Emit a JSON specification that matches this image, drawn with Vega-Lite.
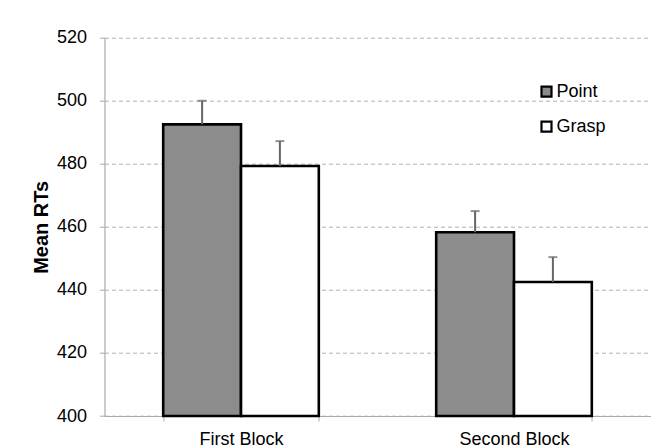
{
  "$schema": "https://vega.github.io/schema/vega-lite/v6.json",
  "width": 546,
  "height": 378.3,
  "autosize": {"type": "none"},
  "padding": {"left": 104.5, "top": 37.7, "right": 20.5, "bottom": 29},
  "background": "white",
  "config": {
    "font": "Liberation Sans",
    "view": {"stroke": null},
    "axis": {"labelFont": "Liberation Sans", "titleFont": "Liberation Sans", "labelColor": "#000", "titleColor": "#000"}
  },
  "data": {
    "values": [
      {"block": "First Block", "grip": "Point", "rt": 492.5, "upper": 500},
      {"block": "First Block", "grip": "Grasp", "rt": 479.3, "upper": 487.2},
      {"block": "Second Block", "grip": "Point", "rt": 458.3, "upper": 465},
      {"block": "Second Block", "grip": "Grasp", "rt": 442.5, "upper": 450.4}
    ]
  },
  "encoding": {
    "x": {
      "field": "block", "type": "nominal", "sort": ["First Block", "Second Block"],
      "scale": {"paddingInner": 0.43, "paddingOuter": 0.215},
      "axis": {"title": null, "labelAngle": 0, "labelFontSize": 18, "labelPadding": 9, "tickBand": "extent", "tickSize": 5, "tickColor": "#aaa", "domainColor": "#aaa", "domainWidth": 1.2, "grid": false}
    },
    "xOffset": {"field": "grip", "type": "nominal", "sort": ["Point", "Grasp"], "scale": {"paddingInner": 0, "paddingOuter": 0}}
  },
  "layer": [
    {
      "mark": {"type": "bar", "stroke": "black", "strokeWidth": 2.6},
      "encoding": {
        "y": {
          "field": "rt", "type": "quantitative",
          "scale": {"domain": [400, 520], "zero": false, "nice": false},
          "axis": {"title": "Mean RTs", "titleFontSize": 20, "titleFontWeight": "bold", "titlePadding": 5, "labelFontSize": 18, "labelPadding": 13, "tickSize": 5, "tickColor": "#aaa", "domainColor": "#aaa", "domainWidth": 1.2, "values": [400, 420, 440, 460, 480, 500, 520], "gridColor": "#b0b0b0", "gridDash": [4, 3], "gridWidth": 1}
        },
        "y2": {"datum": 400},
        "fill": {
          "field": "grip", "type": "nominal", "sort": ["Point", "Grasp"],
          "scale": {"domain": ["Point", "Grasp"], "range": ["#8c8c8c", "#ffffff"]},
          "legend": {
            "title": null, "orient": "none", "legendX": 433, "legendY": 45, "padding": 0,
            "symbolType": "square", "symbolSize": 100, "symbolStrokeColor": "black", "symbolStrokeWidth": 2.2,
            "labelFontSize": 18, "labelFont": "Liberation Sans", "labelColor": "#000", "labelOffset": 1, "rowPadding": 15
          }
        }
      }
    },
    {
      "mark": {"type": "rule", "color": "#666", "strokeWidth": 2},
      "encoding": {
        "y": {"field": "rt", "type": "quantitative"},
        "y2": {"field": "upper"}
      }
    },
    {
      "mark": {"type": "tick", "color": "#666", "thickness": 2, "size": 9},
      "encoding": {
        "y": {"field": "upper", "type": "quantitative"}
      }
    }
  ]
}
